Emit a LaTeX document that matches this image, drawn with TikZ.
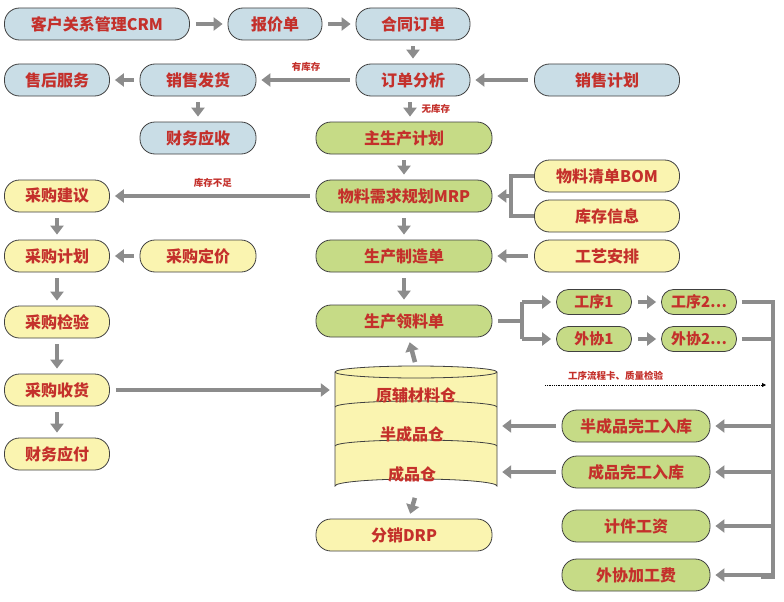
\documentclass[tikz,border=0pt]{standalone}
\usepackage{fontspec}
\setmainfont{Noto Sans CJK SC}
\usetikzlibrary{arrows.meta}
\definecolor{tred}{HTML}{C4302B}
\definecolor{fb}{HTML}{C9DDE6}
\definecolor{fg}{HTML}{C6DB86}
\definecolor{fy}{HTML}{FAF4B0}
\definecolor{ag}{HTML}{8C8C8C}
\tikzset{
 box/.style={draw=black!75,line width=0.8pt,rounded corners=15pt,minimum height=32pt,text=tred,font=\fontsize{16}{16}\selectfont\bfseries,inner sep=2pt},
 sbox/.style={box,rounded corners=12pt,minimum height=25pt,font=\fontsize{15}{15}\selectfont\bfseries},
 bl/.style={fill=fb},gr/.style={fill=fg},ye/.style={fill=fy},
 arr/.style={draw=ag,line width=4.5pt,-{Triangle[length=9pt,width=13pt]},shorten >=5pt,shorten <=6pt},
 ln/.style={draw=ag,line width=4.5pt},
 lab/.style={text=tred,font=\fontsize{9.5}{9.5}\selectfont\bfseries},
 cyt/.style={text=tred,font=\fontsize{16}{16}\selectfont\bfseries}
}
\begin{document}
\begin{tikzpicture}[x=1pt,y=-1pt]
\useasboundingbox (0,0) rectangle (784,602);
\fill[white] (0,0) rectangle (784,602);
\node[box,bl,minimum width=185] (crm) at (97,24) {客户关系管理CRM};
\node[box,bl,minimum width=94] (bj) at (275,24) {报价单};
\node[box,bl,minimum width=114] (ht) at (413,24) {合同订单};
\node[box,bl,minimum width=105] (sh) at (57,80) {售后服务};
\node[box,bl,minimum width=116] (fh) at (198,80) {销售发货};
\node[box,bl,minimum width=114] (dd) at (413,80) {订单分析};
\node[box,bl,minimum width=145] (xs) at (607,80) {销售计划};
\node[box,bl,minimum width=116] (ys) at (198,138) {财务应收};
\node[box,gr,minimum width=176] (zs) at (404,138) {主生产计划};
\node[box,gr,minimum width=176] (mrp) at (404,196) {物料需求规划MRP};
\node[box,ye,minimum width=145] (bom) at (607,176) {物料清单BOM};
\node[box,ye,minimum width=145] (kc) at (607,216) {库存信息};
\node[box,ye,minimum width=105] (cj) at (57,196) {采购建议};
\node[box,gr,minimum width=176] (zz) at (404,256) {生产制造单};
\node[box,ye,minimum width=145] (gy) at (607,256) {工艺安排};
\node[box,ye,minimum width=105] (cp) at (57,256) {采购计划};
\node[box,ye,minimum width=116] (dj) at (198,256) {采购定价};
\node[box,gr,minimum width=176] (ll) at (404,321) {生产领料单};
\node[sbox,gr,minimum width=75] (g1) at (594,302) {工序1};
\node[sbox,gr,minimum width=75] (g2) at (699,302) {工序2…};
\node[sbox,gr,minimum width=75] (w1) at (594,339) {外协1};
\node[sbox,gr,minimum width=75] (w2) at (699,339) {外协2…};
\node[box,ye,minimum width=105] (jy) at (57,322) {采购检验};
\node[box,ye,minimum width=105] (sho) at (57,390) {采购收货};
\node[box,ye,minimum width=105] (yf) at (57,454) {财务应付};
\node[box,ye,minimum width=176] (drp) at (404,535) {分销DRP};
\node[box,gr,minimum width=148] (bc) at (636,426) {半成品完工入库};
\node[box,gr,minimum width=148] (cc) at (636,472) {成品完工入库};
\node[box,gr,minimum width=148] (jj) at (636,526) {计件工资};
\node[box,gr,minimum width=148] (wx) at (636,575) {外协加工费};
% cylinder
\path[fill=fy,draw=black!75,line width=0.8pt] (335,372) -- (335,486) arc[start angle=180,end angle=0,x radius=81,y radius=-7] -- (497,372) arc[start angle=0,end angle=180,x radius=81,y radius=-6] -- cycle;
\draw[black!75,line width=0.8pt] (335,372) arc[start angle=180,end angle=0,x radius=81,y radius=6];
\draw[black!75,line width=0.8pt] (335,407) arc[start angle=180,end angle=0,x radius=81,y radius=-6];
\draw[black!75,line width=0.8pt] (335,446) arc[start angle=180,end angle=0,x radius=81,y radius=-6];
\node[cyt] (c1) at (416,395) {原辅材料仓};
\node[cyt] (c2) at (412,434) {半成品仓};
\node[cyt] (c3) at (412,474) {成品仓};
\node[minimum width=162,minimum height=120,inner sep=0] (cyl) at (416,430) {};
% arrows
\draw[arr] (crm) -- (bj);
\draw[arr] (bj) -- (ht);
\draw[arr] (ht) -- (dd);
\draw[arr] (xs) -- (dd);
\draw[arr] (dd) -- node[lab,above=3pt]{有库存} (fh);
\draw[arr] (fh) -- (sh);
\draw[arr] (fh) -- (ys);
\draw[arr] (dd.south -| 410,0) -- node[lab,right=6pt]{无库存} (zs.north -| 410,0);
\draw[arr] (zs) -- (mrp);
\coordinate (bk) at (512,196);
\draw[ln] (bom.west) -- ++(-23,0) coordinate (b1) -- (b1 |- kc.west) -- (kc.west);
\draw[arr,shorten <=0pt] (bk) -- (mrp.east);
\draw[arr] (mrp) -- node[lab,above=3pt]{库存不足} (cj);
\draw[arr] (mrp) -- (zz);
\draw[arr] (gy) -- (zz);
\draw[arr] (zz) -- (ll);
\draw[arr] (cj) -- (cp);
\draw[arr] (dj) -- (cp);
\draw[arr] (cp) -- (jy);
\draw[arr] (jy) -- (sho);
\draw[arr] (sho) -- (yf);
\draw[arr] (sho.east) -- (sho.east -| cyl.west);
\draw[arr,shorten <=4pt] (cyl.north |- 0,366) -- (ll);
\coordinate (lb) at (522,321);
\draw[ln] (ll.east) ++(6,0) -- (lb);
\draw[arr,shorten <=0pt] (lb |- g1) -- (g1.west);
\draw[arr,shorten <=0pt] (lb |- w1) -- (w1.west);
\draw[ln] (lb |- g1) -- (lb |- w1);
\draw[arr] (g1) -- (g2);
\draw[arr] (w1) -- (w2);
\coordinate (bt) at (773,302);
\draw[ln] (g2.east) ++(5,0) -| (773,577) -- (761,577);
\draw[ln] (w2.east) ++(5,0) -- (w2.east -| bt);
\foreach \n in {bc,cc,jj,wx} \draw[arr,shorten <=0pt] (\n.east -| bt) -- (\n.east);
\draw[arr] (bc.west) -- (bc.west -| cyl.east);
\draw[arr] (cc.west) -- (cc.west -| cyl.east);
\draw[arr,shorten <=4pt] (cyl.south |- 0,494) -- (drp);
\coordinate (d1) at (545,385);
\coordinate (d2) at (766,385);
\draw[black,densely dotted,line width=0.8pt,-{Triangle[length=4pt,width=4pt]}] (d1) -- node[lab,above=1pt,pos=0.32]{工序流程卡、质量检验} (d2);
\end{tikzpicture}
\end{document}
